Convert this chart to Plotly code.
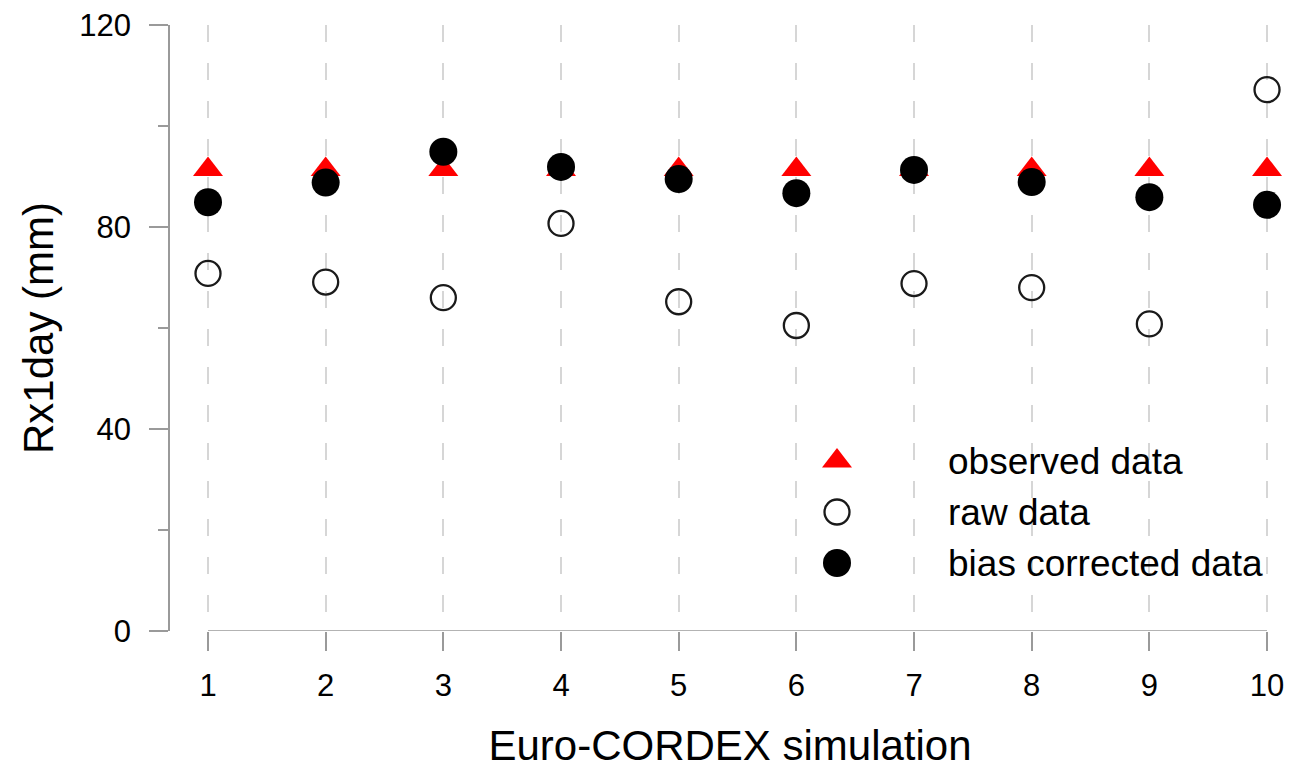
import plotly.graph_objects as go

# ---------------- data ----------------
simulations = [1, 2, 3, 4, 5, 6, 7, 8, 9, 10]
observed = [91.4, 91.4, 91.4, 91.4, 91.4, 91.4, 91.4, 91.4, 91.4, 91.4]
raw = [70.8, 69.1, 66.0, 80.7, 65.2, 60.5, 68.8, 68.0, 60.8, 107.2]
bias_corrected = [84.9, 88.8, 94.9, 91.9, 89.5, 86.7, 91.3, 88.9, 85.9, 84.4]
y_ticks = [0, 40, 80, 120]
legend_labels = ["observed data", "raw data", "bias corrected data"]

# ---------------- styles ----------------
FONT = "Liberation Sans, Arial, sans-serif"
AXIS_GRAY = "#9a9a9a"
GRID_GRAY = "#d6d6d6"
W, H = 1297, 769
L, R, T, B = 170, 7, 25, 138
x_range = [1 - 38 / 117.67, 1 + (W - R - 208) / 117.67]

tri = dict(symbol="triangle-up", size=26, color="#ff0000", line=dict(width=0))
openc = dict(symbol="circle-open", size=25, color="#1a1a1a", line=dict(width=2.3, color="#1a1a1a"))
fillc = dict(symbol="circle", size=28, color="#000000", line=dict(width=0))

fig = go.Figure()
fig.add_trace(go.Scatter(x=simulations, y=observed, mode="markers", marker=tri,
                         name=legend_labels[0], showlegend=False))
fig.add_trace(go.Scatter(x=simulations, y=raw, mode="markers", marker=openc,
                         name=legend_labels[1], showlegend=False))
fig.add_trace(go.Scatter(x=simulations, y=bias_corrected, mode="markers", marker=fillc,
                         name=legend_labels[2], showlegend=False))

# custom legend on a hidden overlay axis (0..1 over the plot area)
leg_x_sym = (837 - L) / (W - L - R)
leg_x_txt = (946 - L) / (W - L - R)
leg_rows = [(631 - 461) / 606, (631 - 512) / 606, (631 - 563) / 606]
leg_markers = [tri, openc, fillc]
for lbl, yy, mk in zip(legend_labels, leg_rows, leg_markers):
    fig.add_trace(go.Scatter(x=[leg_x_sym], y=[yy], mode="markers", marker=mk,
                             xaxis="x2", yaxis="y2", showlegend=False, hoverinfo="skip"))
    fig.add_annotation(x=leg_x_txt, y=yy, xref="x2", yref="y2", text=lbl, showarrow=False,
                       xanchor="left", yanchor="middle",
                       font=dict(family=FONT, size=37, color="#000000"))

# detached x-axis line from first to last simulation
fig.add_shape(type="line", x0=simulations[0], x1=simulations[-1], y0=0, y1=0,
              xref="x", yref="y", line=dict(color=AXIS_GRAY, width=1.5))

fig.update_layout(
    width=W, height=H,
    margin=dict(l=L, r=R, t=T, b=B),
    plot_bgcolor="white", paper_bgcolor="white",
    font=dict(family=FONT, color="#000000"),
    showlegend=False,
    xaxis=dict(
        range=x_range, tickmode="array", tickvals=simulations,
        ticktext=[str(s) for s in simulations],
        showline=False, zeroline=False,
        ticks="outside", ticklen=19, tickwidth=1.5, tickcolor=AXIS_GRAY,
        showgrid=True, gridcolor=GRID_GRAY, gridwidth=1.5, griddash="17px,21px",
        tickfont=dict(size=31, color="#000000"),
        ticklabelstandoff=8,
        title=dict(text="Euro-CORDEX simulation", font=dict(size=42, color="#000000"), standoff=28),
    ),
    yaxis=dict(
        range=[0, 120], tickmode="array", tickvals=y_ticks,
        showline=True, linecolor=AXIS_GRAY, linewidth=1.5,
        zeroline=False, showgrid=False,
        ticks="outside", ticklen=19, tickwidth=1.5, tickcolor=AXIS_GRAY,
        minor=dict(dtick=20, ticks="outside", ticklen=10, tickwidth=1.5,
                   tickcolor=AXIS_GRAY, showgrid=False),
        tickfont=dict(size=31, color="#000000"),
        ticklabelstandoff=12,
        title=dict(text="Rx1day (mm)", font=dict(size=42, color="#000000"), standoff=13),
    ),
    xaxis2=dict(overlaying="x", range=[0, 1], visible=False, fixedrange=True),
    yaxis2=dict(overlaying="y", range=[0, 1], visible=False, fixedrange=True),
)

fig.write_html("out.html")
